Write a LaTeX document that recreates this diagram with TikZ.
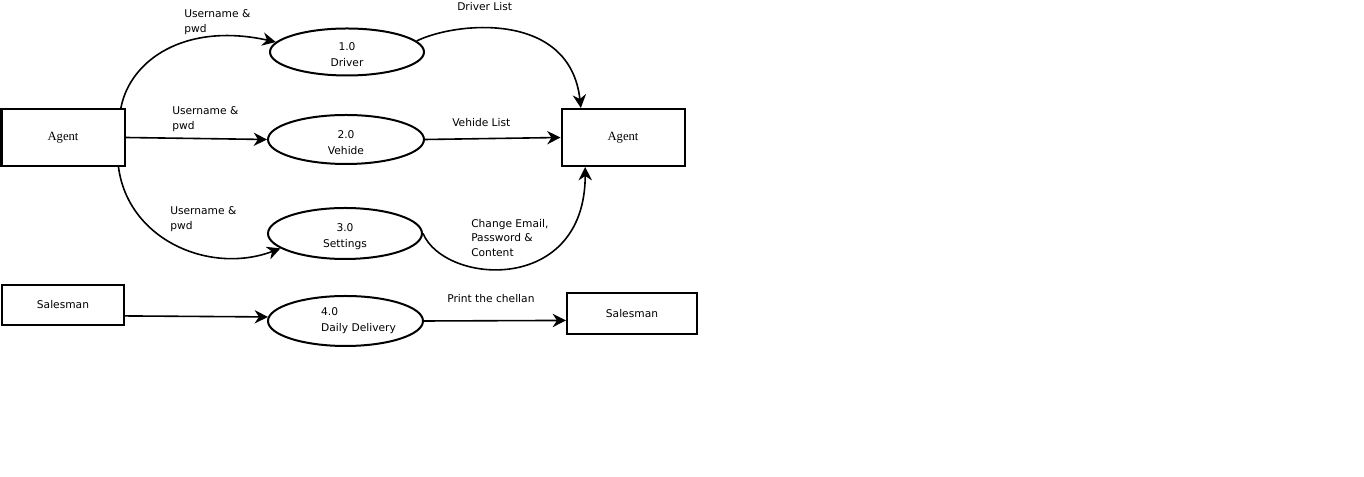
\documentclass[tikz,border=0pt]{standalone}
\usepackage{fontspec}
\setmainfont{DejaVu Sans}
\newfontfamily\agentfont{Liberation Serif}
\usetikzlibrary{arrows.meta,positioning,shapes.geometric}

\begin{document}
\begin{tikzpicture}[
  x=0.75pt, y=0.75pt,
  ent/.style={draw, line width=1.5pt, inner sep=0pt, font=\fontsize{8}{10}\selectfont},
  agentbox/.style={ent, minimum width=92.25pt, minimum height=42.75pt, font=\agentfont\fontsize{9.5}{11}\selectfont},
  proc/.style={draw, ellipse, line width=1.5pt, inner sep=0pt, align=center, font=\fontsize{8}{12}\selectfont},
  lowtext/.style={text height=22.5pt},
  lbl/.style={anchor=west, inner sep=0pt, align=left, font=\fontsize{8}{11}\selectfont},
  flow/.style={-{Stealth[length=10pt,width=10pt]}, line width=1.2pt}
]
\useasboundingbox (0,0) rectangle (1364,477);
\node[agentbox] (agentL) at (63,339.5) {Agent};
\node[agentbox] (agentR) at (623,339.5) {Agent};
\node[ent, minimum width=91.5pt, minimum height=30pt] (salesL) at (63,172) {Salesman};
\node[ent, minimum width=97.5pt, minimum height=30.75pt] (salesR) at (632,163.5) {Salesman};
\node[proc, lowtext, minimum width=115.5pt, minimum height=35.25pt] (p1) at (347,425) {1.0\\Driver};
\node[proc, lowtext, minimum width=117pt, minimum height=36.75pt] (p2) at (346,337.5) {2.0\\Vehide};
\node[proc, lowtext, minimum width=115.5pt, minimum height=38.25pt] (p3) at (345,243.5) {3.0\\Settings};
\node[proc, minimum width=116.25pt, minimum height=37.5pt, align=left] (p4) at (345.5,156) {\hspace*{19.5pt}4.0\\\hspace*{19.5pt}Daily Delivery};
\node[lbl] (l1) at (184,455) {Username \&\\pwd};
\node[lbl] (l2) at (172,358) {Username \&\\pwd};
\node[lbl] (l3) at (170,258) {Username \&\\pwd};
\node[lbl] (l4) at (457,470) {Driver List};
\node[lbl] (l5) at (452,354) {Vehide List};
\node[lbl] (l6) at (471,239) {Change Email,\\Password \&\\Content};
\node[lbl] (l7) at (447,178) {Print the chellan};
\draw[flow] (agentL.27) .. controls (130,417) and (185,455) .. (p1.172);
\draw[flow] (agentL.-28) .. controls (128,237) and (210,202) .. (p3.193);
\draw[flow] (p1.9) .. controls (455,455) and (570,467) .. (agentR.145);
\draw[flow] (p3.east) .. controls (445,192) and (585,182) .. (agentR.-142);
\foreach \a/\b in {agentL.east/p2.west,p2.east/agentR.west,salesL.-10/p4.177,p4.east/salesR.186}{\draw[flow] (\a) -- (\b);}
\end{tikzpicture}
\end{document}
